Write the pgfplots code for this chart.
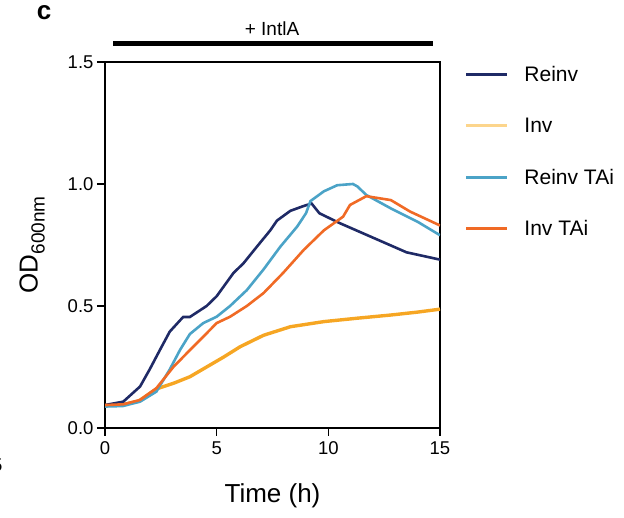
\documentclass[border=0pt]{standalone}
\usepackage{fontspec}
\setmainfont{Liberation Sans}
\usepackage{pgfplots}
\pgfplotsset{compat=1.18}

\definecolor{reinv}{HTML}{1F2A66}
\definecolor{inv}{HTML}{F6A623}
\definecolor{invlight}{HTML}{FCD58C}
\definecolor{reinvtai}{HTML}{4BA3C7}
\definecolor{invtai}{HTML}{F06A25}

\begin{document}
\begin{tikzpicture}
\useasboundingbox (0pt,0pt) rectangle (624pt,518pt);
% panel letter, stray digit of neighbouring panel, treatment bar
\node[font=\fontsize{26}{28}\selectfont\bfseries, anchor=center] at (44pt,505pt) {c};
\node[font=\fontsize{18.5}{20}\selectfont, anchor=east] at (6pt,53pt) {5};
\node[font=\fontsize{19}{21}\selectfont] at (272pt,489pt) {+ IntlA};
\draw[line width=5pt] (113pt,474pt) -- (433pt,474pt);

\begin{axis}[
  at={(105pt,90pt)}, anchor=south west,
  scale only axis, width=335pt, height=366pt,
  xmin=0, xmax=15, ymin=0, ymax=1.5,
  xtick={0,5,10,15}, ytick={0,0.5,1.0,1.5},
  yticklabel style={/pgf/number format/.cd, fixed, fixed zerofill, precision=1},
  /pgf/number format/assume math mode=true,
  tick align=outside, tick pos=left,
  major tick length=8pt,
  axis line style={line width=1.3pt},
  every tick/.style={line width=1.3pt, black},
  ticklabel style={font=\fontsize{18.5}{20}\selectfont},
  xticklabel style={yshift=-2pt},
  xlabel={Time (h)},
  ylabel={OD\raisebox{-7pt}{\fontsize{19}{20}\selectfont 600nm}},
  xlabel style={font=\fontsize{26}{28}\selectfont, yshift=-22pt},
  ylabel style={font=\fontsize{26}{28}\selectfont, yshift=16pt},
  legend style={at={(1.065,1.0)}, anchor=north west, draw=none, fill=none,
    font=\fontsize{21}{23}\selectfont, row sep=31pt,
    /tikz/every even column/.append style={column sep=0pt}},
  legend cell align=left,
  legend image code/.code={
    \draw[#1, line width=3pt] (0pt,0pt) -- (41pt,0pt);
    \path[draw=none, fill=none] (0pt,0pt) rectangle (56pt,0.1pt);},
  clip=true,
]
% Inv
\addplot[inv, line width=3.4pt, forget plot] coordinates {
(0,0.092) (0.8,0.096) (1.5,0.11) (2.3,0.16) (3.06,0.183) (3.8,0.21) (4.55,0.25)
(5.3,0.29) (6.05,0.333) (7.1,0.38) (8.3,0.415) (9.8,0.436) (11.3,0.45)
(12.8,0.463) (14,0.475) (15,0.487)};
% Reinv
\addplot[reinv, line width=2.6pt, forget plot] coordinates {
(0,0.094) (0.82,0.108) (1.57,0.17) (2.0,0.24) (2.46,0.32) (2.9,0.395)
(3.5,0.455) (3.8,0.455) (4.55,0.50) (5.0,0.54) (5.75,0.635) (6.2,0.675)
(6.8,0.743) (7.4,0.81) (7.7,0.85) (8.3,0.89) (8.9,0.91) (9.25,0.92)
(9.6,0.88) (10.5,0.84) (12,0.78) (13.5,0.72) (15,0.69)};
% Reinv TAi
\addplot[reinvtai, line width=2.6pt, forget plot] coordinates {
(0,0.088) (0.8,0.09) (1.57,0.108) (2.3,0.149) (2.9,0.24) (3.36,0.32)
(3.8,0.385) (4.4,0.43) (5.0,0.456) (5.6,0.50) (6.35,0.565) (7.1,0.65)
(7.85,0.743) (8.6,0.825) (9.0,0.88) (9.2,0.93) (9.8,0.97) (10.4,0.995)
(11.1,1.0) (11.3,0.99) (11.7,0.955) (12.8,0.90) (14,0.845) (15,0.79)};
% Inv TAi
\addplot[invtai, line width=2.6pt, forget plot] coordinates {
(0,0.094) (0.82,0.097) (1.57,0.115) (2.3,0.163) (3.06,0.25) (3.66,0.306)
(4.25,0.36) (5.0,0.43) (5.6,0.456) (6.35,0.50) (7.1,0.553) (7.97,0.635)
(8.9,0.73) (9.8,0.81) (10.66,0.866) (10.97,0.914) (11.7,0.95) (12.8,0.934)
(13.66,0.887) (15,0.83)};
\addlegendimage{reinv}
\addlegendentry{Reinv}
\addlegendimage{invlight}
\addlegendentry{Inv}
\addlegendimage{reinvtai}
\addlegendentry{Reinv TAi}
\addlegendimage{invtai}
\addlegendentry{Inv TAi}
\end{axis}
\end{tikzpicture}
\end{document}
